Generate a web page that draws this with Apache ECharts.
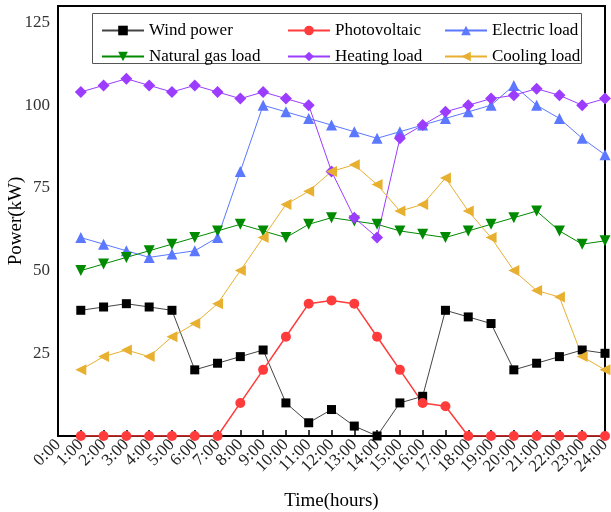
<!DOCTYPE html>
<html>
<head>
<meta charset="utf-8">
<script src="https://cdn.jsdelivr.net/npm/echarts@6/dist/echarts.min.js"></script>
<style>
html,body{margin:0;padding:0;background:#fff;}
#chart{width:611px;height:512px;}
</style>
</head>
<body>
<div id="chart"></div>
<script>
// axis runs 0:00 - 24:00, data at hours 1..24
var hourLabels = ['0:00','1:00','2:00','3:00','4:00','5:00','6:00','7:00','8:00','9:00','10:00','11:00','12:00',
  '13:00','14:00','15:00','16:00','17:00','18:00','19:00','20:00','21:00','22:00','23:00','24:00'];
var hours = [1,2,3,4,5,6,7,8,9,10,11,12,13,14,15,16,17,18,19,20,21,22,23,24];
var yTicks = [25,50,75,100,125];

var windPower    = [38,39,40,39,38,20,22,24,26,10,4,8,3,0,10,12,38,36,34,20,22,24,26,25];
var photovoltaic = [0,0,0,0,0,0,0,10,20,30,40,41,40,30,20,10,9,0,0,0,0,0,0,0];
var electricLoad = [60,58,56,54,55,56,60,80,100,98,96,94,92,90,92,94,96,98,100,106,100,96,90,85];
var gasLoad      = [50,52,54,56,58,60,62,64,62,60,64,66,65,64,62,61,60,62,64,66,68,62,58,59];
var heatLoad     = [104,106,108,106,104,106,104,102,104,102,100,80,66,60,90,94,98,100,102,103,105,103,100,102];
var coolLoad     = [20,24,26,24,30,34,40,50,60,70,74,80,82,76,68,70,78,68,60,50,44,42,24,20];

var FONT = '"Liberation Serif", "DejaVu Serif", serif';

function pairs(vals){
  var out = [];
  for (var i = 0; i < hours.length; i++) out.push([hours[i], vals[i]]);
  return out;
}

function mkSeries(name, vals, color, symbol, size, lineColor, lw, rot){
  return {
    name: name, type: 'line', data: pairs(vals),
    symbol: symbol, symbolSize: size, symbolRotate: rot || 0,
    showAllSymbol: true,
    itemStyle: {color: color},
    lineStyle: {color: lineColor || color, width: lw},
    emphasis: {disabled: true},
    z: 3
  };
}

var chart = echarts.init(document.getElementById('chart'));

var legendText = {fontFamily: FONT, fontSize: 17, color: '#000'};
function mkLegend(left, names){
  return {
    orient: 'vertical', left: left, top: 17,
    itemWidth: 42, itemHeight: 12, itemGap: 9,
    textStyle: legendText, data: names, selectedMode: false
  };
}

var option = {
  animation: false,
  backgroundColor: '#fff',
  grid: {left: 58, right: 6, top: 6, bottom: 76, show: true, borderColor: '#000', borderWidth: 2,
    containLabel: false, outerBoundsMode: 'none'},
  legend: [
    mkLegend(96, ['Wind power', 'Natural gas load']),
    mkLegend(282, ['Photovoltaic', 'Heating load']),
    mkLegend(439, ['Electric load', 'Cooling load'])
  ],
  graphic: [{
    type: 'rect', left: 92, top: 13, z: 1,
    shape: {width: 489, height: 50},
    style: {fill: '#fff', stroke: '#555', lineWidth: 1}
  }],
  xAxis: {
    type: 'category', data: hourLabels, boundaryGap: false,
    name: 'Time(hours)', nameLocation: 'middle', nameGap: 56, nameMoveOverlap: false,
    nameTextStyle: {fontFamily: FONT, fontSize: 19, color: '#000'},
    axisLine: {lineStyle: {color: '#000', width: 2}},
    axisTick: {inside: true, length: 6, interval: 0, lineStyle: {color: '#000', width: 1.5}},
    splitLine: {show: false},
    axisLabel: {
      rotate: 45, interval: 0, fontFamily: FONT, fontSize: 17, color: '#222', margin: 6
    }
  },
  yAxis: {
    type: 'value', min: 0, max: 130, interval: 25,
    name: 'Power(kW)', nameLocation: 'middle', nameGap: 32, nameMoveOverlap: false,
    nameTextStyle: {fontFamily: FONT, fontSize: 19, color: '#000'},
    axisLine: {show: true, lineStyle: {color: '#000', width: 2}},
    axisTick: {inside: false, length: 8, lineStyle: {color: '#000', width: 1.5},
      customValues: yTicks},
    splitLine: {show: false},
    axisLabel: {
      fontFamily: FONT, fontSize: 17, color: '#333', margin: 8,
      customValues: yTicks
    }
  },
  series: [
    mkSeries('Wind power', windPower, '#000', 'rect', 9, '#444', 1),
    mkSeries('Photovoltaic', photovoltaic, '#ff3b3b', 'circle', 10, '#ff3b3b', 1.5),
    mkSeries('Electric load', electricLoad, '#5b78ff', 'triangle', 11, '#5b78ff', 1),
    mkSeries('Natural gas load', gasLoad, '#008a00', 'triangle', 11, '#008a00', 1, 180),
    mkSeries('Heating load', heatLoad, '#9b3cff', 'diamond', 12, '#9b3cff', 1),
    mkSeries('Cooling load', coolLoad, '#e8b030', 'triangle', 11, '#e8b030', 1, 90)
  ]
};

chart.setOption(option);
</script>
</body>
</html>
